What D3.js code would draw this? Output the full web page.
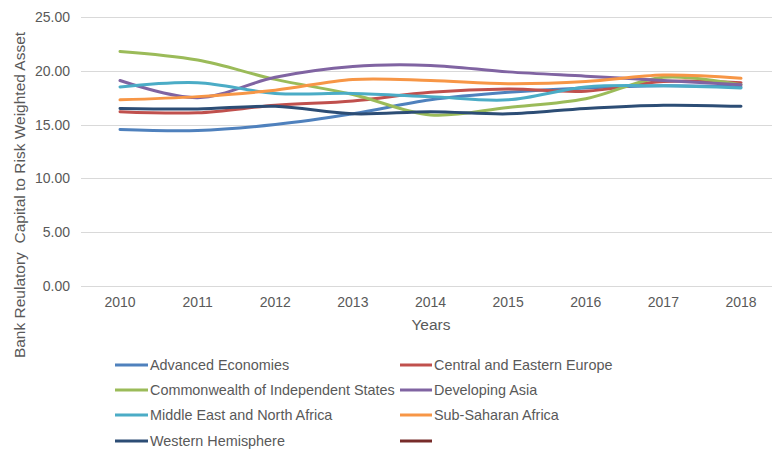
<!DOCTYPE html>
<html>
<head>
<meta charset="utf-8">
<script src="https://cdn.jsdelivr.net/npm/d3@7/dist/d3.min.js"></script>
<style>
  html, body { margin: 0; padding: 0; background: #fff; }
  svg { display: block; font-family: "Liberation Sans", Arial, sans-serif; }
</style>
</head>
<body>
<svg id="chart" width="772" height="451"></svg>
<script>
const years = ["2010","2011","2012","2013","2014","2015","2016","2017","2018"];
const yTicks = [0, 5, 10, 15, 20, 25];
const seriesNames = [
  "Advanced Economies", "Central and Eastern Europe",
  "Commonwealth of Independent States", "Developing Asia",
  "Middle East and North Africa", "Sub-Saharan Africa",
  "Western Hemisphere", ""
];
const advancedEconomies = [14.55, 14.45, 15.0, 16.0, 17.3, 18.0, 18.4, 18.6, 18.5];
const centralEasternEurope = [16.2, 16.1, 16.8, 17.2, 18.0, 18.3, 18.1, 19.0, 18.9];
const commonwealthIS = [21.8, 21.0, 19.2, 17.8, 15.9, 16.6, 17.4, 19.4, 18.7];
const developingAsia = [19.1, 17.5, 19.4, 20.4, 20.5, 19.9, 19.5, 19.1, 18.7];
const middleEastNorthAfrica = [18.5, 18.9, 17.9, 17.9, 17.6, 17.3, 18.5, 18.6, 18.4];
const subSaharanAfrica = [17.3, 17.6, 18.2, 19.2, 19.1, 18.8, 19.0, 19.6, 19.3];
const westernHemisphere = [16.5, 16.45, 16.7, 16.0, 16.2, 16.0, 16.5, 16.8, 16.7];
const unnamedSeries = [];
const colors = ["#4F81BD", "#C0504D", "#9BBB59", "#8064A2", "#4BACC6", "#F79646", "#2C4D75", "#772C2A"];

const allSeries = [advancedEconomies, centralEasternEurope, commonwealthIS, developingAsia,
  middleEastNorthAfrica, subSaharanAfrica, westernHemisphere, unnamedSeries];

const svg = d3.select("#chart");
const x = d3.scalePoint().domain(years).range([120, 741]);
const y = d3.scaleLinear().domain([0, 25]).range([286, 17]);
const textColor = "#595959";

// gridlines
svg.append("g").selectAll("line").data(yTicks).join("line")
  .attr("x1", 81).attr("x2", 772)
  .attr("y1", d => Math.round(y(d)) + 0.5).attr("y2", d => Math.round(y(d)) + 0.5)
  .attr("stroke", "#d9d9d9").attr("stroke-width", 1);

// y tick labels
svg.append("g").selectAll("text").data(yTicks).join("text")
  .attr("x", 70).attr("y", d => y(d)).attr("dy", "0.35em")
  .attr("text-anchor", "end").attr("font-size", 14).attr("fill", textColor)
  .text(d => d.toFixed(2));

// x tick labels
svg.append("g").selectAll("text").data(years).join("text")
  .attr("x", d => x(d)).attr("y", 302).attr("dy", "0.35em")
  .attr("text-anchor", "middle").attr("font-size", 14).attr("fill", textColor)
  .text(d => d);

// axis titles
svg.append("text").attr("x", 431).attr("y", 325).attr("dy", "0.35em")
  .attr("text-anchor", "middle").attr("font-size", 15.5).attr("fill", textColor)
  .text("Years");
svg.append("text")
  .attr("transform", "translate(20,195) rotate(-90)")
  .attr("dy", "0.35em").attr("text-anchor", "middle")
  .attr("font-size", 15.5).attr("fill", textColor)
  .style("white-space", "pre")
  .text("Bank Reulatory  Capital to Risk Weighted Asset");

// lines
const line = d3.line()
  .x((d, i) => x(years[i]))
  .y(d => y(d))
  .curve(d3.curveCatmullRom.alpha(0.5));
svg.append("g").selectAll("path").data(allSeries.map((v, i) => ({v, i})).filter(s => s.v.length)).join("path")
  .attr("d", s => line(s.v))
  .attr("fill", "none")
  .attr("stroke", s => colors[s.i])
  .attr("stroke-width", 3)
  .attr("stroke-linecap", "round")
  .attr("stroke-linejoin", "round");

// legend
const legendRows = [365, 390, 415, 441];
const legendCols = [[115, 150], [400, 434]];
const leg = svg.append("g").selectAll("g").data(seriesNames).join("g")
  .attr("transform", (d, i) => `translate(0,${legendRows[Math.floor(i / 2)]})`);
leg.append("line")
  .attr("x1", (d, i) => legendCols[i % 2][0]).attr("x2", (d, i) => legendCols[i % 2][1] - 2)
  .attr("y1", 0).attr("y2", 0)
  .attr("stroke", (d, i) => colors[i]).attr("stroke-width", 3);
leg.append("text")
  .attr("x", (d, i) => legendCols[i % 2][1]).attr("y", 0).attr("dy", "0.35em")
  .attr("font-size", 14.4).attr("fill", textColor)
  .text(d => d);
</script>
</body>
</html>
